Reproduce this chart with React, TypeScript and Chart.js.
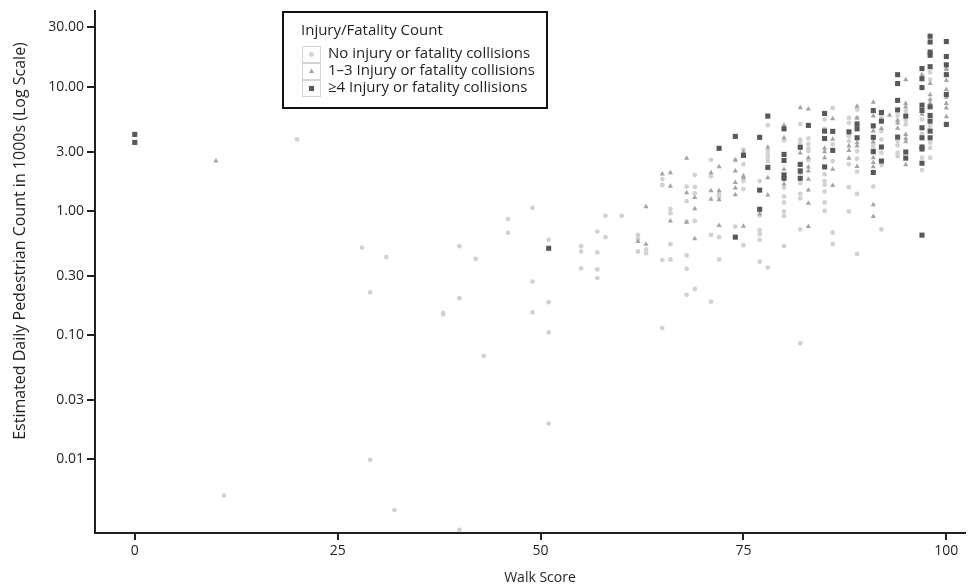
import React, { useEffect, useRef } from 'react';
import { Chart, registerables } from 'chart.js';

Chart.register(...registerables);

const FONT = "'Open Sans', sans-serif";
const TEXT = '#231f20';

const xTickValues = [0, 25, 50, 75, 100];
const yTickValues = [0.01, 0.03, 0.1, 0.3, 1, 3, 10, 30];
const xTitle = 'Walk Score';
const yTitle = 'Estimated Daily Pedestrian Count in 1000s (Log Scale)';
const legendTitle = 'Injury/Fatality Count';
const seriesLabels = [
  'No injury or fatality collisions',
  '1\u20133 Injury or fatality collisions',
  '\u22654 Injury or fatality collisions',
];

// [walk score, estimated daily pedestrians (1000s)]
const noInjury: number[][] = [
  [11, 0.0051], [20, 3.77], [28, 0.507], [29, 0.221], [29, 0.0099], [31, 0.425], [32, 0.0039],
  [38, 0.151], [38, 0.147], [40, 0.52], [40, 0.198], [40, 0.0027], [42, 0.411], [43, 0.068],
  [46, 0.858], [46, 0.666], [49, 1.06], [49, 0.27], [49, 0.152],
  [51, 0.585], [51, 0.184], [51, 0.105], [51, 0.0194],
  [55, 0.52], [55, 0.471], [55, 0.344], [57, 0.682], [57, 0.463], [57, 0.338], [57, 0.288],
  [58, 0.912], [58, 0.615], [60, 0.912], [62, 0.641], [62, 0.593], [62, 0.471], [63, 0.489], [63, 0.457],
  [65, 1.8], [65, 1.62], [65, 0.402], [65, 0.114], [66, 1.04], [66, 0.958], [66, 0.54], [66, 0.406],
  [68, 1.57], [68, 1.2], [68, 0.82], [68, 0.438], [68, 0.342], [68, 0.211],
  [69, 1.95], [69, 1.56], [69, 1.39], [69, 0.83], [69, 0.235],
  [71, 2.58], [71, 1.9], [71, 0.641], [71, 0.186], [72, 1.36], [72, 1.3], [72, 0.615], [72, 0.406],
  [74, 2.57], [74, 0.748], [75, 3.13], [75, 2.37], [75, 1.74], [75, 1.5], [75, 0.53],
  [77, 1.74], [77, 0.92], [77, 0.7], [77, 0.65], [77, 0.585], [77, 0.39],
  [78, 4.9], [78, 3.07], [78, 2.85], [78, 2.68], [78, 2.52], [78, 0.35],
  [80, 3.7], [80, 1.8], [80, 1.54], [80, 1.31], [80, 1.17], [80, 0.99], [80, 0.91], [80, 0.52],
  [82, 5.0], [82, 3.74], [82, 3.51], [82, 2.03], [82, 1.67], [82, 1.37], [82, 1.26], [82, 0.71], [82, 0.086],
  [83, 3.83], [83, 3.47], [83, 3.19], [83, 3.03], [83, 2.55],
  [85, 5.45], [85, 4.58], [85, 1.97], [85, 1.74], [85, 1.62], [85, 1.43], [85, 1.17], [85, 1.0],
  [86, 6.72], [86, 3.43], [86, 2.52], [86, 0.67], [86, 0.54],
  [88, 5.61], [88, 5.11], [88, 4.0], [88, 3.65], [88, 2.37], [88, 1.55], [88, 0.99],
  [89, 6.55], [89, 5.61], [89, 3.03], [89, 2.63], [89, 2.07], [89, 1.37], [89, 0.45],
  [91, 3.43], [91, 3.22], [91, 1.57], [92, 5.69], [92, 4.39], [92, 3.77], [92, 2.94], [92, 2.34], [92, 0.71],
  [94, 5.87], [94, 3.65], [94, 3.37], [94, 2.94], [94, 2.76], [95, 6.36], [95, 5.35], [95, 4.97],
  [97, 5.45], [97, 4.17], [97, 2.68], [97, 2.13],
  [98, 13.1], [98, 11.4], [98, 4.82], [98, 3.54], [98, 3.22], [98, 2.68], [100, 13.8],
];

const fewInjury: number[][] = [
  [10, 2.52], [62, 0.567], [63, 1.08], [63, 0.54], [65, 1.98], [66, 2.03], [66, 1.58], [66, 0.83],
  [68, 2.65], [68, 1.4], [68, 0.81], [69, 1.28], [69, 1.04], [69, 0.596],
  [71, 2.03], [71, 1.45], [71, 1.24], [72, 2.27], [72, 1.45], [72, 1.23], [72, 0.762],
  [74, 2.57], [74, 2.1], [74, 1.69], [74, 1.53], [74, 1.35], [75, 2.98], [75, 1.91], [75, 1.85], [75, 0.753],
  [77, 0.95], [78, 3.25], [78, 1.85], [78, 1.34], [80, 4.9], [80, 3.88], [80, 2.16], [80, 1.65],
  [82, 6.76], [82, 2.92], [82, 2.03],
  [83, 6.63], [83, 2.68], [83, 2.26], [83, 2.1], [83, 1.8], [83, 1.47], [83, 1.15], [83, 0.748],
  [85, 3.19], [85, 3.0], [85, 2.68], [86, 5.51], [86, 3.77], [86, 2.16], [86, 1.6],
  [88, 3.33], [88, 3.07], [88, 2.65], [89, 6.97], [89, 5.61], [89, 3.54], [89, 3.33], [89, 2.28],
  [91, 7.51], [91, 5.82], [91, 4.39], [91, 3.6], [91, 2.68], [91, 2.45], [91, 2.27], [91, 1.12], [91, 0.9],
  [92, 5.3], [92, 4.6], [93, 5.9], [94, 5.38], [94, 5.1], [94, 4.62],
  [95, 11.4], [95, 7.33], [95, 6.85], [95, 4.13], [95, 3.83], [95, 3.6], [95, 2.35],
  [97, 12.5], [97, 5.99], [98, 10.6], [98, 8.6], [98, 7.9], [98, 7.4],
  [100, 13.8], [100, 11.2], [100, 9.5], [100, 8.24], [100, 7.33], [100, 6.75], [100, 5.72],
];

const manyInjury: number[][] = [
  [0, 4.13], [0, 3.56], [51, 0.5], [72, 3.19], [74, 3.98], [74, 0.615], [75, 2.8],
  [77, 3.91], [77, 1.47], [77, 1.03], [78, 5.8], [78, 2.24],
  [80, 4.58], [80, 2.85], [80, 2.55], [80, 1.95], [80, 1.83], [82, 3.25], [82, 2.37], [82, 2.1], [82, 1.83],
  [83, 4.88], [85, 6.09], [85, 4.39], [85, 3.83], [85, 2.26], [86, 4.37], [86, 3.07], [88, 4.33],
  [89, 5.02], [89, 4.58], [89, 3.88], [91, 6.43], [91, 4.84], [91, 3.91], [91, 3.0], [91, 2.04],
  [92, 6.2], [92, 5.28], [92, 3.27], [92, 2.52], [94, 12.5], [94, 10.6], [94, 7.76], [94, 6.5], [94, 3.93],
  [95, 5.8], [95, 2.98], [95, 2.66],
  [97, 14.0], [97, 11.6], [97, 9.84], [97, 7.1], [97, 6.43], [97, 4.67], [97, 3.88], [97, 3.27], [97, 3.15], [97, 2.42], [97, 0.638],
  [98, 25.5], [98, 22.9], [98, 19.0], [98, 17.9], [98, 14.5], [98, 6.89], [98, 5.87], [98, 5.28], [98, 4.39], [98, 3.88],
  [100, 23.1], [100, 17.5], [100, 15.0], [100, 12.5], [100, 8.66], [100, 4.97],
];

const seriesColors = ['#d2d2d2', '#a4a4a4', '#585858'];
const seriesStyles = ['circle', 'triangle', 'rect'];
const seriesRadius = [2.4, 3.0, 3.6];

const toPoints = (arr: number[][]) => arr.map(([x, y]) => ({ x, y }));

function drawMarker(ctx: CanvasRenderingContext2D, style: string, x: number, y: number, r: number) {
  ctx.beginPath();
  if (style === 'circle') {
    ctx.arc(x, y, r, 0, Math.PI * 2);
  } else if (style === 'triangle') {
    const a = -Math.PI / 2;
    for (let i = 0; i < 3; i++) {
      const ang = a + (i * 2 * Math.PI) / 3;
      const px = x + Math.cos(ang) * r;
      const py = y + Math.sin(ang) * r;
      if (i === 0) ctx.moveTo(px, py);
      else ctx.lineTo(px, py);
    }
    ctx.closePath();
  } else {
    const s = r * Math.SQRT1_2;
    ctx.rect(x - s, y - s, 2 * s, 2 * s);
  }
  ctx.fill();
}

const overlayPlugin = {
  id: 'overlay',
  afterDraw(chart: any) {
    const ctx: CanvasRenderingContext2D = chart.ctx;
    // axis titles
    ctx.save();
    ctx.fillStyle = TEXT;
    ctx.textAlign = 'center';
    ctx.textBaseline = 'middle';
    ctx.font = `14px ${FONT}`;
    ctx.fillText(xTitle, 540, 578);
    ctx.font = `16px ${FONT}`;
    ctx.translate(20, 241);
    ctx.rotate(-Math.PI / 2);
    ctx.fillText(yTitle, 0, 0);
    ctx.restore();

    // legend
    ctx.save();
    ctx.fillStyle = '#ffffff';
    ctx.fillRect(283, 12, 264, 96);
    ctx.strokeStyle = '#111111';
    ctx.lineWidth = 2;
    ctx.strokeRect(283, 12, 264, 96);
    ctx.fillStyle = TEXT;
    ctx.font = `15px ${FONT}`;
    ctx.textAlign = 'left';
    ctx.textBaseline = 'middle';
    ctx.fillText(legendTitle, 301, 31);
    const rows = [54, 71, 88];
    rows.forEach((ry, i) => {
      ctx.strokeStyle = '#d4d4d4';
      ctx.lineWidth = 1;
      ctx.strokeRect(302.5, ry - 7.5, 18, 16);
      ctx.fillStyle = seriesColors[i];
      drawMarker(ctx, seriesStyles[i], 311.5, ry + 0.5, seriesRadius[i]);
      ctx.fillStyle = TEXT;
      ctx.fillText(seriesLabels[i], 328, ry);
    });
    ctx.restore();
  },
};

export default function App() {
  const canvasRef = useRef<HTMLCanvasElement | null>(null);

  useEffect(() => {
    document.body.style.margin = '0';
    const canvas = canvasRef.current;
    if (!canvas) return;
    const makeDs = (label: string, arr: number[][], i: number, order: number) => ({
      label,
      data: toPoints(arr),
      pointStyle: seriesStyles[i],
      pointRadius: seriesRadius[i],
      pointBackgroundColor: seriesColors[i],
      pointBorderWidth: 0,
      pointBorderColor: seriesColors[i],
      showLine: false,
      clip: false as any,
      order,
    });
    const chart = new Chart(canvas, {
      type: 'scatter',
      data: {
        datasets: [
          makeDs(seriesLabels[0], noInjury, 0, 3),
          makeDs(seriesLabels[1], fewInjury, 1, 2),
          makeDs(seriesLabels[2], manyInjury, 2, 1),
        ],
      },
      options: {
        responsive: false,
        animation: false,
        devicePixelRatio: 1,
        layout: { padding: { top: 10, right: 9, bottom: 0, left: 0 } },
        plugins: { legend: { display: false }, tooltip: { enabled: false } },
        scales: {
          x: {
            type: 'linear',
            position: 'bottom',
            min: -4.9,
            max: 102.3,
            grid: { display: true, drawOnChartArea: false, drawTicks: true, tickLength: 7, color: '#231f20', lineWidth: 2 },
            border: { display: true, color: '#231f20', width: 2 },
            ticks: { color: TEXT, font: { family: FONT, size: 14 }, padding: 3, autoSkip: false, maxRotation: 0 },
            afterBuildTicks: (s: any) => {
              s.ticks = xTickValues.map((v) => ({ value: v }));
            },
            afterFit: (s: any) => {
              s.height = 53;
            },
          },
          y: {
            type: 'logarithmic',
            position: 'left',
            min: 0.00255,
            max: 40.4,
            grid: { display: true, drawOnChartArea: false, drawTicks: true, tickLength: 8, color: '#231f20', lineWidth: 2 },
            border: { display: true, color: '#231f20', width: 2 },
            ticks: {
              color: TEXT,
              font: { family: FONT, size: 14 },
              padding: 3,
              autoSkip: false,
              callback: (v: any) => Number(v).toFixed(2),
            },
            afterBuildTicks: (s: any) => {
              s.ticks = yTickValues.map((v) => ({ value: v }));
            },
            afterFit: (s: any) => {
              s.width = 95;
            },
          },
        },
      },
      plugins: [overlayPlugin],
    });
    return () => chart.destroy();
  }, []);

  return (
    <div style={{ width: 974, height: 586, background: '#ffffff' }}>
      <canvas ref={canvasRef} width={974} height={586} style={{ display: 'block' }} />
    </div>
  );
}
